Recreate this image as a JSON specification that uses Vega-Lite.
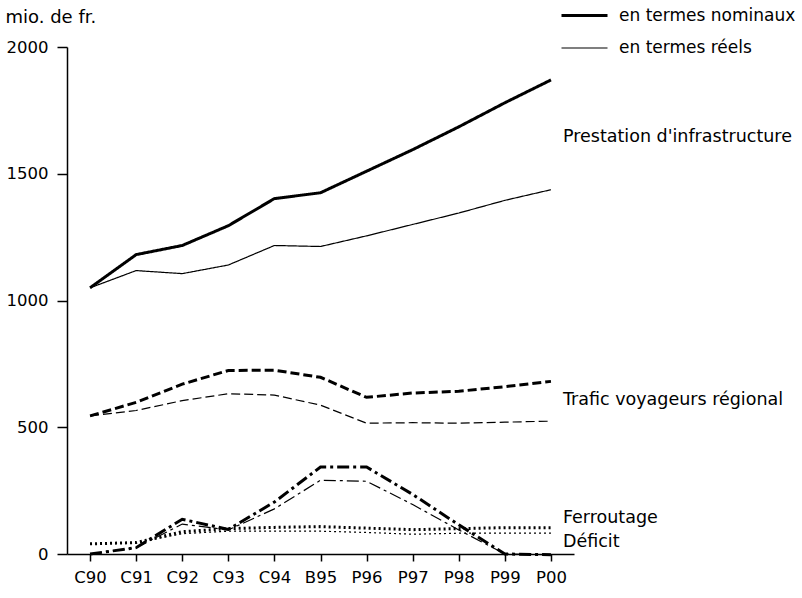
{
  "$schema": "https://vega.github.io/schema/vega-lite/v6.json",
  "width": 507,
  "height": 507,
  "autosize": {"type": "none"},
  "padding": {"left": 67, "top": 47, "right": 228, "bottom": 44},
  "background": "white",
  "config": {
    "font": "DejaVu Sans",
    "view": {"stroke": null},
    "axis": {"domainColor": "black", "tickColor": "black", "labelColor": "black", "grid": false, "domainWidth": 1.5, "tickWidth": 1.5, "labelFontSize": 16.5, "labelFont": "DejaVu Sans"}
  },
  "datasets": {
    "lines": [
      {"an": "C90", "serie": "Prestation", "type": "en termes nominaux", "v": 1050},
      {"an": "C91", "serie": "Prestation", "type": "en termes nominaux", "v": 1181},
      {"an": "C92", "serie": "Prestation", "type": "en termes nominaux", "v": 1217},
      {"an": "C93", "serie": "Prestation", "type": "en termes nominaux", "v": 1295},
      {"an": "C94", "serie": "Prestation", "type": "en termes nominaux", "v": 1402},
      {"an": "B95", "serie": "Prestation", "type": "en termes nominaux", "v": 1425},
      {"an": "P96", "serie": "Prestation", "type": "en termes nominaux", "v": 1510},
      {"an": "P97", "serie": "Prestation", "type": "en termes nominaux", "v": 1595},
      {"an": "P98", "serie": "Prestation", "type": "en termes nominaux", "v": 1685},
      {"an": "P99", "serie": "Prestation", "type": "en termes nominaux", "v": 1780},
      {"an": "P00", "serie": "Prestation", "type": "en termes nominaux", "v": 1870},
      {"an": "C90", "serie": "Prestation", "type": "en termes réels", "v": 1050},
      {"an": "C91", "serie": "Prestation", "type": "en termes réels", "v": 1118},
      {"an": "C92", "serie": "Prestation", "type": "en termes réels", "v": 1106},
      {"an": "C93", "serie": "Prestation", "type": "en termes réels", "v": 1140},
      {"an": "C94", "serie": "Prestation", "type": "en termes réels", "v": 1217},
      {"an": "B95", "serie": "Prestation", "type": "en termes réels", "v": 1213},
      {"an": "P96", "serie": "Prestation", "type": "en termes réels", "v": 1255},
      {"an": "P97", "serie": "Prestation", "type": "en termes réels", "v": 1300},
      {"an": "P98", "serie": "Prestation", "type": "en termes réels", "v": 1345},
      {"an": "P99", "serie": "Prestation", "type": "en termes réels", "v": 1395},
      {"an": "P00", "serie": "Prestation", "type": "en termes réels", "v": 1437},
      {"an": "C90", "serie": "Trafic", "type": "en termes nominaux", "v": 545},
      {"an": "C91", "serie": "Trafic", "type": "en termes nominaux", "v": 598},
      {"an": "C92", "serie": "Trafic", "type": "en termes nominaux", "v": 670},
      {"an": "C93", "serie": "Trafic", "type": "en termes nominaux", "v": 724},
      {"an": "C94", "serie": "Trafic", "type": "en termes nominaux", "v": 725},
      {"an": "B95", "serie": "Trafic", "type": "en termes nominaux", "v": 697},
      {"an": "P96", "serie": "Trafic", "type": "en termes nominaux", "v": 618},
      {"an": "P97", "serie": "Trafic", "type": "en termes nominaux", "v": 635},
      {"an": "P98", "serie": "Trafic", "type": "en termes nominaux", "v": 642},
      {"an": "P99", "serie": "Trafic", "type": "en termes nominaux", "v": 660},
      {"an": "P00", "serie": "Trafic", "type": "en termes nominaux", "v": 681},
      {"an": "C90", "serie": "Trafic", "type": "en termes réels", "v": 545},
      {"an": "C91", "serie": "Trafic", "type": "en termes réels", "v": 566},
      {"an": "C92", "serie": "Trafic", "type": "en termes réels", "v": 605},
      {"an": "C93", "serie": "Trafic", "type": "en termes réels", "v": 632},
      {"an": "C94", "serie": "Trafic", "type": "en termes réels", "v": 627},
      {"an": "B95", "serie": "Trafic", "type": "en termes réels", "v": 587},
      {"an": "P96", "serie": "Trafic", "type": "en termes réels", "v": 516},
      {"an": "P97", "serie": "Trafic", "type": "en termes réels", "v": 518},
      {"an": "P98", "serie": "Trafic", "type": "en termes réels", "v": 516},
      {"an": "P99", "serie": "Trafic", "type": "en termes réels", "v": 520},
      {"an": "P00", "serie": "Trafic", "type": "en termes réels", "v": 524},
      {"an": "C90", "serie": "Ferroutage", "type": "en termes nominaux", "v": 40},
      {"an": "C91", "serie": "Ferroutage", "type": "en termes nominaux", "v": 45},
      {"an": "C92", "serie": "Ferroutage", "type": "en termes nominaux", "v": 88},
      {"an": "C93", "serie": "Ferroutage", "type": "en termes nominaux", "v": 100},
      {"an": "C94", "serie": "Ferroutage", "type": "en termes nominaux", "v": 105},
      {"an": "B95", "serie": "Ferroutage", "type": "en termes nominaux", "v": 108},
      {"an": "P96", "serie": "Ferroutage", "type": "en termes nominaux", "v": 102},
      {"an": "P97", "serie": "Ferroutage", "type": "en termes nominaux", "v": 96},
      {"an": "P98", "serie": "Ferroutage", "type": "en termes nominaux", "v": 100},
      {"an": "P99", "serie": "Ferroutage", "type": "en termes nominaux", "v": 104},
      {"an": "P00", "serie": "Ferroutage", "type": "en termes nominaux", "v": 104},
      {"an": "C90", "serie": "Ferroutage", "type": "en termes réels", "v": 40},
      {"an": "C91", "serie": "Ferroutage", "type": "en termes réels", "v": 44},
      {"an": "C92", "serie": "Ferroutage", "type": "en termes réels", "v": 80},
      {"an": "C93", "serie": "Ferroutage", "type": "en termes réels", "v": 90},
      {"an": "C94", "serie": "Ferroutage", "type": "en termes réels", "v": 90},
      {"an": "B95", "serie": "Ferroutage", "type": "en termes réels", "v": 90},
      {"an": "P96", "serie": "Ferroutage", "type": "en termes réels", "v": 85},
      {"an": "P97", "serie": "Ferroutage", "type": "en termes réels", "v": 78},
      {"an": "P98", "serie": "Ferroutage", "type": "en termes réels", "v": 82},
      {"an": "P99", "serie": "Ferroutage", "type": "en termes réels", "v": 82},
      {"an": "P00", "serie": "Ferroutage", "type": "en termes réels", "v": 82},
      {"an": "C90", "serie": "Déficit", "type": "en termes nominaux", "v": 0},
      {"an": "C91", "serie": "Déficit", "type": "en termes nominaux", "v": 25},
      {"an": "C92", "serie": "Déficit", "type": "en termes nominaux", "v": 137},
      {"an": "C93", "serie": "Déficit", "type": "en termes nominaux", "v": 97},
      {"an": "C94", "serie": "Déficit", "type": "en termes nominaux", "v": 205},
      {"an": "B95", "serie": "Déficit", "type": "en termes nominaux", "v": 343},
      {"an": "P96", "serie": "Déficit", "type": "en termes nominaux", "v": 343},
      {"an": "P97", "serie": "Déficit", "type": "en termes nominaux", "v": 235},
      {"an": "P98", "serie": "Déficit", "type": "en termes nominaux", "v": 115},
      {"an": "P99", "serie": "Déficit", "type": "en termes nominaux", "v": 0},
      {"an": "P00", "serie": "Déficit", "type": "en termes nominaux", "v": -3},
      {"an": "C90", "serie": "Déficit", "type": "en termes réels", "v": 0},
      {"an": "C91", "serie": "Déficit", "type": "en termes réels", "v": 25},
      {"an": "C92", "serie": "Déficit", "type": "en termes réels", "v": 118},
      {"an": "C93", "serie": "Déficit", "type": "en termes réels", "v": 95},
      {"an": "C94", "serie": "Déficit", "type": "en termes réels", "v": 178},
      {"an": "B95", "serie": "Déficit", "type": "en termes réels", "v": 291},
      {"an": "P96", "serie": "Déficit", "type": "en termes réels", "v": 287},
      {"an": "P97", "serie": "Déficit", "type": "en termes réels", "v": 195},
      {"an": "P98", "serie": "Déficit", "type": "en termes réels", "v": 95},
      {"an": "P99", "serie": "Déficit", "type": "en termes réels", "v": 0},
      {"an": "P00", "serie": "Déficit", "type": "en termes réels", "v": -3}
    ],
    "labels": [
      {"an": "P00", "v": 1646, "label": "Prestation d'infrastructure"},
      {"an": "P00", "v": 606, "label": "Trafic voyageurs régional"},
      {"an": "P00", "v": 142, "label": "Ferroutage"},
      {"an": "P00", "v": 47, "label": "Déficit"}
    ]
  },
  "encoding": {
    "x": {
      "field": "an", "type": "ordinal",
      "sort": ["C90","C91","C92","C93","C94","B95","P96","P97","P98","P99","P00"],
      "scale": {"type": "point", "padding": 0.5},
      "axis": {"title": null, "labelAngle": 0, "tickSize": 7, "labelPadding": 8}
    },
    "y": {
      "field": "v", "type": "quantitative",
      "scale": {"domain": [0, 2000], "nice": false, "zero": true},
      "axis": {
        "values": [0, 500, 1000, 1500, 2000], "format": "d", "tickSize": 10, "labelPadding": 9,
        "title": "mio. de fr.", "titleAngle": 0, "titleX": -62, "titleY": -30,
        "titleAlign": "left", "titleBaseline": "middle", "titleFontSize": 18, "titleFontWeight": "normal",
        "titleFont": "DejaVu Sans", "titleColor": "black"
      }
    }
  },
  "layer": [
    {
      "data": {"name": "lines"},
      "mark": {"type": "line", "color": "black", "clip": false},
      "encoding": {
        "detail": {"field": "serie"},
        "strokeDash": {
          "field": "serie", "type": "nominal",
          "scale": {"domain": ["Prestation","Trafic","Ferroutage","Déficit"], "range": [[1,0],[9,4],[2,3],[12,4,3,4]]},
          "legend": null
        },
        "strokeWidth": {
          "field": "type", "type": "nominal",
          "scale": {"domain": ["en termes nominaux","en termes réels"], "range": [3, 1.2]},
          "legend": {
            "title": null, "orient": "none", "legendX": 493, "legendY": -56,
            "symbolType": "stroke", "symbolSize": 2116, "symbolStrokeColor": "black",
            "labelFontSize": 17, "labelFont": "DejaVu Sans", "labelColor": "black", "labelLimit": 400,
            "labelOffset": 10, "rowPadding": 0
          }
        }
      }
    },
    {
      "data": {"name": "labels"},
      "mark": {"type": "text", "align": "left", "baseline": "middle", "dx": 12, "fontSize": 17.5, "font": "DejaVu Sans", "color": "black"},
      "encoding": {"text": {"field": "label"}}
    }
  ]
}
